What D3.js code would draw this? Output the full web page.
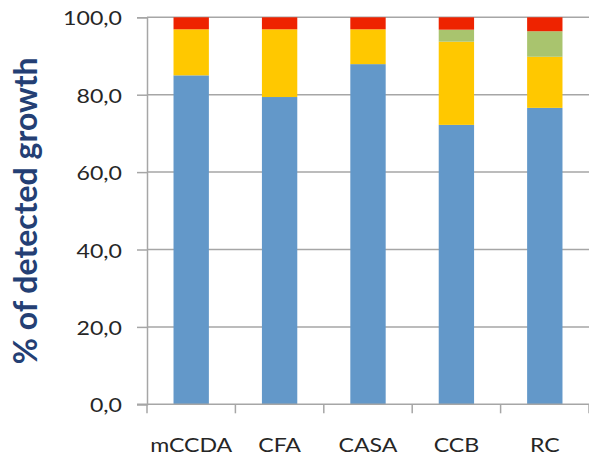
<!DOCTYPE html>
<html>
<head>
<meta charset="utf-8">
<script src="https://cdn.jsdelivr.net/npm/d3@7"></script>
<style>
  body { margin: 0; background: #fff; }
  svg { display: block; }
  text { font-family: "Lato", "Open Sans", sans-serif; }
</style>
</head>
<body>
<div id="chart"></div>
<script>
// data
var categories = ["mCCDA", "CFA", "CASA", "CCB", "RC"];
var blueVals   = [85.0, 79.4, 87.9, 72.2, 76.6];
var yellowVals = [11.9, 17.5,  9.0, 21.5, 13.2];
var greenVals  = [ 0.0,  0.0,  0.0,  3.1,  6.6];
var redVals    = [ 3.1,  3.1,  3.1,  3.2,  3.6];
var seriesNames = ["blue", "yellow", "green", "red"];
var yTicks = [0, 20, 40, 60, 80, 100];

var colors = {blue: "#6398C9", yellow: "#FFC800", green: "#A9C46E", red: "#EE2300"};

var width = 589, height = 454;
var margin = {top: 17.3, right: 0, bottom: 49.7, left: 147};
var textStretch = 1.25; // picture is stretched sideways

var svg = d3.select("#chart").append("svg")
    .attr("width", width)
    .attr("height", height);

var rows = categories.map(function(c, i){
    return {cat: c, blue: blueVals[i], yellow: yellowVals[i], green: greenVals[i], red: redVals[i]};
});

var x = d3.scaleBand()
    .domain(categories)
    .range([margin.left, width - margin.right])
    .paddingInner(0.6)
    .paddingOuter(0.3);

var y = d3.scaleLinear()
    .domain([0, 100])
    .range([height - margin.bottom, margin.top]);

var fmt = d3.formatLocale({decimal: ",", thousands: ".", grouping: [3], currency: ["", ""]}).format(".1f");

var axisColor = "#A6A6A6";

// gridlines
svg.append("g")
    .selectAll("line")
    .data(yTicks.filter(function(d){ return d > 0; }))
    .enter().append("line")
    .attr("x1", margin.left)
    .attr("x2", width - margin.right)
    .attr("y1", function(d){ return y(d); })
    .attr("y2", function(d){ return y(d); })
    .attr("stroke", axisColor)
    .attr("stroke-width", 1.5);

// stacked bars
var stack = d3.stack().keys(seriesNames);
var layers = stack(rows);

svg.append("g")
    .selectAll("g")
    .data(layers)
    .enter().append("g")
    .attr("fill", function(d){ return colors[d.key]; })
    .selectAll("rect")
    .data(function(d){ return d; })
    .enter().append("rect")
    .attr("x", function(d){ return x(d.data.cat); })
    .attr("width", x.bandwidth())
    .attr("y", function(d){ return y(d[1]); })
    .attr("height", function(d){ return y(d[0]) - y(d[1]); });

// y axis
var yAxis = svg.append("g")
    .attr("transform", "translate(" + margin.left + ",0)")
    .call(d3.axisLeft(y).tickValues(yTicks).tickSize(10).tickFormat(fmt));

yAxis.select(".domain").attr("stroke", axisColor).attr("stroke-width", 1.5);
yAxis.selectAll(".tick line").attr("stroke", axisColor).attr("stroke-width", 1.5);
yAxis.selectAll(".tick text")
    .attr("x", null)
    .attr("dy", "0.36em")
    .attr("transform", "translate(-25,1) scale(" + textStretch + ",1)")
    .attr("text-anchor", "end")
    .attr("fill", "#262626")
    .style("font-family", "Lato, sans-serif")
    .style("font-size", "18.5px");

// x axis
var x0 = y(0);
svg.append("line")
    .attr("x1", margin.left - 10)
    .attr("x2", width - margin.right)
    .attr("y1", x0).attr("y2", x0)
    .attr("stroke", axisColor).attr("stroke-width", 1.5);

var step = x.step();
var bounds = d3.range(categories.length + 1).map(function(i){ return margin.left + i * step; });
svg.append("g")
    .selectAll("line")
    .data(bounds)
    .enter().append("line")
    .attr("x1", function(d){ return d; })
    .attr("x2", function(d){ return d; })
    .attr("y1", x0)
    .attr("y2", x0 + 9)
    .attr("stroke", axisColor)
    .attr("stroke-width", 1.5);

svg.append("g")
    .selectAll("text")
    .data(categories)
    .enter().append("text")
    .attr("transform", function(d){
        return "translate(" + (x(d) + x.bandwidth() / 2) + "," + (height - 2.5) + ") scale(" + textStretch + ",1)";
    })
    .attr("text-anchor", "middle")
    .attr("fill", "#262626")
    .style("font-size", "18.5px")
    .text(function(d){ return d; });

// y title
svg.append("text")
    .attr("transform", "translate(37," + ((y(0) + y(100)) / 2) + ") rotate(-90)")
    .attr("text-anchor", "middle")
    .attr("fill", "#243F74")
    .style("font-size", "32px")
    .style("font-weight", "bold")
    .text("% of detected growth");
</script>
</body>
</html>
